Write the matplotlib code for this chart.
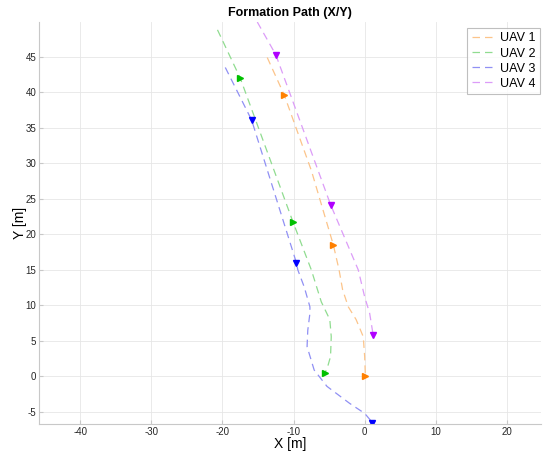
import matplotlib.pyplot as plt

# path points (x, y in metres)
uav1_x = [-13.7, -11.3, -7.5, -4.4, -3.6, -3.1, -2.3, -1.2, -0.2, 0.0, 0.1]
uav1_y = [44.9, 39.6, 29.0, 18.5, 15.0, 12.2, 9.8, 8.0, 5.6, 2.8, 0.0]
uav2_x = [-20.7, -17.5, -10.1, -7.5, -6.1, -4.9, -4.7, -4.8, -5.2, -5.6]
uav2_y = [48.8, 42.0, 21.8, 15.0, 10.5, 8.0, 5.6, 2.8, 1.4, 0.45]
uav3_x = [-19.6, -15.9, -9.6, -9.4, -8.5, -7.7, -7.7, -8.0, -8.1, -7.1, -5.3, -2.1, 0.0, 1.1]
uav3_y = [43.5, 36.1, 16.0, 15.0, 12.6, 9.8, 8.9, 6.5, 4.2, 0.9, -1.4, -3.8, -5.2, -6.5]
uav4_x = [-15.1, -12.5, -4.8, -0.9, 0.0, 0.7, 1.2]
uav4_y = [49.9, 45.3, 24.2, 15.0, 11.2, 8.9, 5.8]

names = ["UAV 1", "UAV 2", "UAV 3", "UAV 4"]
colors = ["#ff8000", "#00c000", "#0000ff", "#b000ff"]
line_colors = ["#fcc48a", "#90dc90", "#9090f4", "#dc9cf8"]
marker_idx = [[1, 3, 10], [1, 2, 9], [1, 2, 13], [1, 2, 6]]
marker_sym = [">", ">", "v", "v"]

paths = [(uav1_x, uav1_y), (uav2_x, uav2_y), (uav3_x, uav3_y), (uav4_x, uav4_y)]

plt.rcParams["font.family"] = ["Liberation Sans", "DejaVu Sans"]
plt.rcParams["axes.unicode_minus"] = False

fig = plt.figure(figsize=(5.44, 4.54), dpi=100)
ax = fig.add_axes([0.0717, 0.066, 0.9228, 0.8855])

for (xs, ys), name, c, lc, idx, m in zip(paths, names, colors, line_colors,
                                        marker_idx, marker_sym):
    ax.plot(xs, ys, linestyle=(0, (6, 4)), color=lc, linewidth=0.9, label=name)
    ax.plot([xs[i] for i in idx], [ys[i] for i in idx], linestyle="none",
            marker=m, color=c, markersize=4.5)

ax.set_xlim(-45.8, 24.8)
ax.set_ylim(-6.7, 49.9)
ax.set_xticks([-40, -30, -20, -10, 0, 10, 20])
ax.set_yticks([-5, 0, 5, 10, 15, 20, 25, 30, 35, 40, 45])
ax.grid(True, color="#e6e6e6", linewidth=0.6)
ax.set_axisbelow(True)
for s in ["top", "right"]:
    ax.spines[s].set_visible(False)
for s in ["left", "bottom"]:
    ax.spines[s].set_color("#c8c8c8")
ax.tick_params(direction="in", length=3, labelsize=7, colors="#262626",
               color="#c8c8c8", pad=2)
ax.set_xlabel("X [m]", fontsize=10, labelpad=0)
ax.set_ylabel("Y [m]", fontsize=10, labelpad=-1)
ax.set_title("Formation Path (X/Y)", fontsize=9, fontweight="bold", pad=4)

leg = ax.legend(loc="upper right", bbox_to_anchor=(0.997, 0.985), fontsize=9,
                handlelength=2.0, handletextpad=0.25, borderaxespad=0.0,
                fancybox=False, labelspacing=0.25, borderpad=0.35)
leg.get_frame().set_edgecolor("#b0b0b0")
leg.get_frame().set_linewidth(0.8)

fig.savefig("out.png", dpi=100)
